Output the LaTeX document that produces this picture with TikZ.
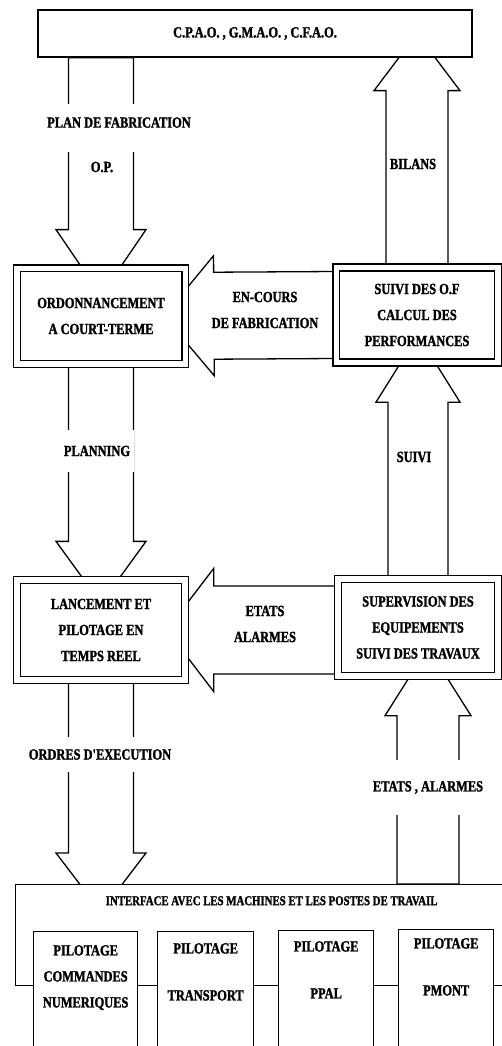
\documentclass[tikz,border=0pt]{standalone}
\usepackage{fontspec}
\newfontfamily\labfont{Liberation Serif}[FakeStretch=0.8,FakeBold=1.5]
\usetikzlibrary{calc,positioning,backgrounds}

\tikzset{
  lab/.style={font=\labfont\bfseries\fontsize{15.5}{26}\selectfont,
    align=center, inner sep=1pt},
  small/.style={font=\labfont\bfseries\fontsize{13.5}{15}\selectfont},
  sbox/.style={draw, line width=1.3pt, fill=white},
  dbox/.style={draw, double, double distance=5.5pt, line width=1.3pt,
    fill=white, lab},
  pbox/.style={sbox, anchor=north west, minimum height=140pt},
  fat/.style={draw, line width=1.3pt, line join=miter},
  gap/.style={lab, fill=white, inner xsep=4pt},
}

% fat arrow: from, tip, half shaft, half head, head length
\newcommand\fatarrow[5]{%
  \coordinate (fa-s) at (#1);
  \coordinate (fa-t) at (#2);
  \coordinate (fa-b) at ($(fa-t)!#5pt!(fa-s)$);
  \draw[fat] ($(fa-s)!#3pt!90:(fa-t)$) -- ($(fa-b)!#3pt!90:(fa-t)$)
    -- ($(fa-b)!#4pt!90:(fa-t)$) -- (fa-t) -- ($(fa-b)!#4pt!-90:(fa-t)$)
    -- ($(fa-b)!#3pt!-90:(fa-t)$) -- ($(fa-s)!#3pt!-90:(fa-t)$) -- cycle;}

\begin{document}
\begin{tikzpicture}[x=1pt,y=-1pt]
  \useasboundingbox (0,0) rectangle (502,1046);

  % boxes
  \node[sbox, lab, minimum width=434pt, minimum height=47pt] (cpao) at (255,33.5)
    {C.P.A.O. , G.M.A.O. , C.F.A.O.};
  \node[dbox, minimum width=168.5pt, minimum height=95.5pt] (ord) at (101,316)
    {ORDONNANCEMENT\\A COURT-TERME};
  \node[dbox, minimum width=161.5pt, minimum height=95pt] (suivi) at (417,315)
    {SUIVI DES O.F\\CALCUL DES\\PERFORMANCES};
  \node[dbox, minimum width=168pt, minimum height=100pt] (lanc) at (101,630)
    {LANCEMENT ET\\PILOTAGE EN\\TEMPS REEL};
  \node[dbox, minimum width=160pt, minimum height=97pt] (superv) at (418,627.5)
    {SUPERVISION DES\\EQUIPEMENTS\\SUIVI DES TRAVAUX};

  % interface and pilotage
  \node[sbox, anchor=north west, minimum width=520pt, minimum height=101pt]
    (inter) at (15,884) {};
  \node[lab, small, below=11pt of inter.north, xshift=-4pt] (intert)
    {INTERFACE AVEC LES MACHINES ET LES POSTES DE TRAVAIL};
  \node[pbox, minimum width=104pt] (pcn) at (33,931) {};
  \node[pbox, minimum width=96pt] (ptr) at (157,931) {};
  \node[pbox, minimum width=95pt] (ppal) at (278,930) {};
  \node[pbox, minimum width=95pt] (pmont) at (398,929) {};
  \node[lab, below=13pt of pcn.north] (pcnt) {PILOTAGE\\COMMANDES\\NUMERIQUES};
  \node[lab, below=11pt of ptr.north] (ptrt) {PILOTAGE\\[21pt]TRANSPORT};
  \node[lab, below=10pt of ppal.north] (ppalt) {PILOTAGE\\[21pt]PPAL};
  \node[lab, below=8pt of pmont.north] (pmontt) {PILOTAGE\\[21pt]PMONT};

  % flows
  \begin{scope}[on background layer]
    \fill[white] (0,0) rectangle (502,1046);
    \fatarrow{cpao.south -| ord.north}{$(ord.north)+(0,28)$}{32.5}{45}{66}
    \fatarrow{suivi.north}{$(suivi.north |- cpao.south)+(0,-24)$}{31}{43}{57}
    \fatarrow{ord.south}{$(lanc.north)+(0,24)$}{32.5}{45}{62}
    \fatarrow{superv.north}{$(superv.north |- suivi.south)+(0,-28)$}{30}{42}{67}
    \fatarrow{lanc.south}{$(lanc.south |- inter.north)+(0,28)$}{32.5}{45}{59}
    \fatarrow{$(superv.south |- inter.north)+(10,0)$}{$(superv.south)+(10,-29)$}{31}{43}{68}
    \fatarrow{suivi.west}{$(ord.east)+(-22,0)$}{43.5}{60}{50}
    \fatarrow{superv.west |- lanc.east}{$(lanc.east)+(-19,0)$}{44}{61.5}{47}
  \end{scope}

  % flow labels
  \node[gap, inner ysep=13pt, text depth=11pt] (plan) at (119,128) {PLAN DE FABRICATION};
  \node[lab] (op) at (102,167) {O.P.};
  \node[lab] (bilans) at (413,164) {BILANS};
  \node[gap, minimum width=72pt, minimum height=42pt] (planning) at (97,451) {PLANNING};
  \node[lab] (suivil) at (414,457) {SUIVI};
  \node[lab] (encours) at (265,310) {EN-COURS\\DE FABRICATION};
  \node[lab] (etats) at (265,624) {ETATS\\ALARMES};
  \node[gap, minimum height=35pt] (ordres) at (100,754.5) {ORDRES D'EXECUTION};
  \node[gap, minimum height=55pt] (alarmes) at (428,787.5) {ETATS , ALARMES};
\end{tikzpicture}
\end{document}
